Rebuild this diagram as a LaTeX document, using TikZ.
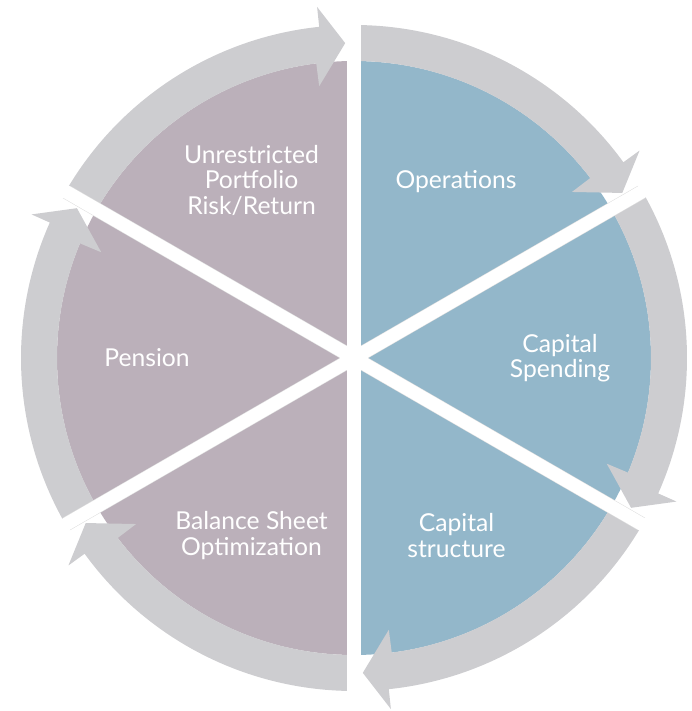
\documentclass[tikz,border=0pt]{standalone}
\usepackage{fontspec}
\setmainfont{Lato}
\definecolor{mauve}{RGB}{187,176,186}
\definecolor{steel}{RGB}{147,183,202}
\definecolor{ring}{RGB}{205,205,208}
\tikzset{
 lbl/.style={text=white,align=center,inner sep=0pt,font=\fontsize{18.5}{18.8}\selectfont},
 gap/.style={white,line width=10pt},
 gapedge/.style={gray!25,line width=10.8pt}
}
\begin{document}
\begin{tikzpicture}[x=0.75pt,y=0.75pt]
\useasboundingbox (0,0) rectangle (692,711);
\begin{scope}[shift={(354,353)}]
\coordinate (O) at (0,0);
% the two halves
\fill[mauve] (O)--(90:297) arc[start angle=90,end angle=270,radius=297]--cycle;
\fill[steel] (O)--(-90:297) arc[start angle=-90,end angle=90,radius=297]--cycle;
% ring of arrows, clockwise
\foreach \a in {90,30,-30,-90,-150,-210}{
\pgfmathsetmacro\b{\a-60}
\fill[ring] (\a:333) arc[start angle=\a,end angle=\b+6,radius=333]
  --(\b+6:353)--(\b+1.6:315)--(\b+7.3:274)--(\b+7.3:297)
  arc[start angle=\b+7.3,end angle=\a,radius=297]--cycle;
}
% white cuts
\foreach \g in {90,30,150}
\draw[gapedge] (\g:332)--(\g+180:332);
\foreach \g in {90,30,150}
\draw[gap] (\g:334)--(\g+180:334);
% texts
\node[lbl] (unres) at (120:205) {Unrestricted\\Portfolio\\Risk/Return};
\node[lbl] (oper) at (60:204) {Operations};
\node[lbl] (spend) at (0:206) {Capital\\Spending};
\node[lbl] (capstr) at (-60:205) {Capital\\structure};
\node[lbl] (bal) at (-120:205) {Balance Sheet\\Optimization};
\node[lbl] (pens) at (180:207) {Pension};
\end{scope}
\end{tikzpicture}
\end{document}
